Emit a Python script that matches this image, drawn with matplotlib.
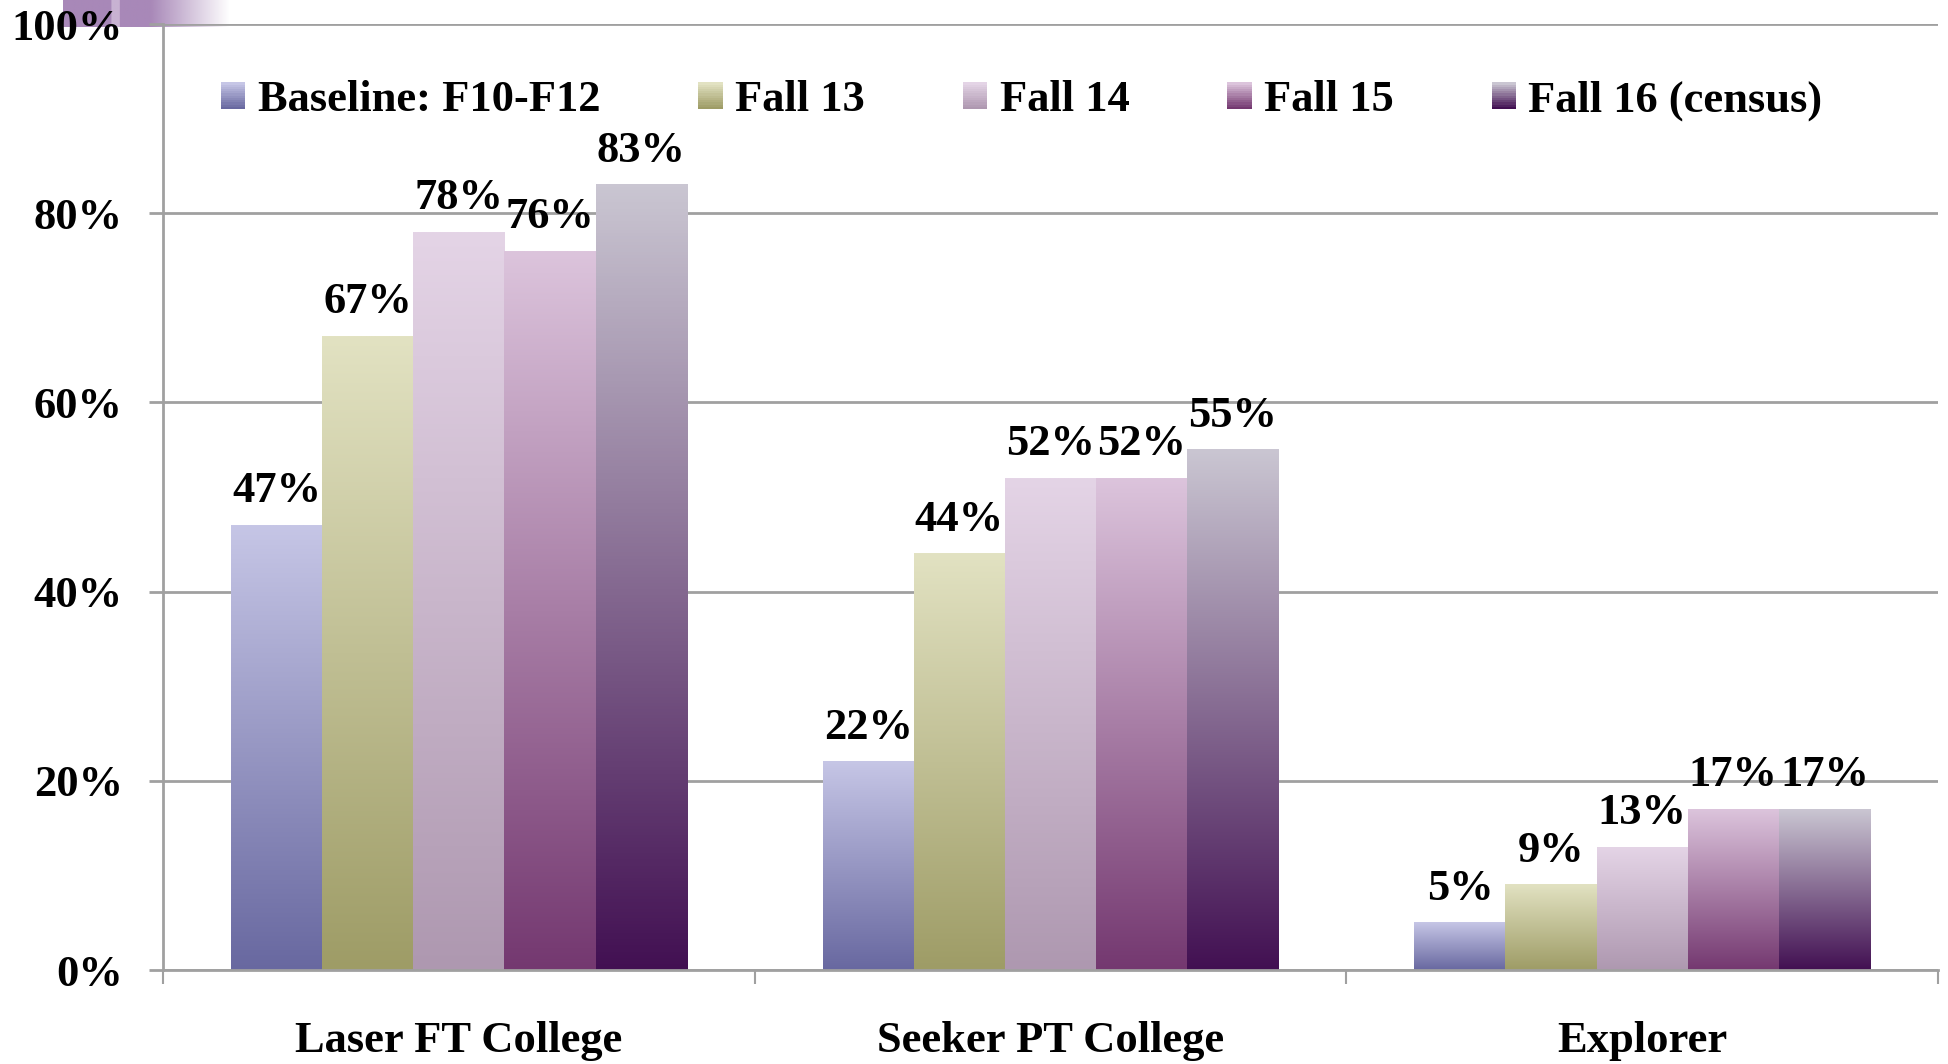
import numpy as np
import matplotlib
matplotlib.use("Agg")
import matplotlib.pyplot as plt
from matplotlib.colors import LinearSegmentedColormap, to_rgb
from matplotlib.patches import Rectangle
from matplotlib.legend_handler import HandlerBase

# Data
categories = ['Laser FT College', 'Seeker PT College', 'Explorer']
series = ['Baseline: F10-F12', 'Fall 13', 'Fall 14', 'Fall 15', 'Fall 16 (census)']
values = {
    'Baseline: F10-F12': [47, 22, 5],
    'Fall 13': [67, 44, 9],
    'Fall 14': [78, 52, 13],
    'Fall 15': [76, 52, 17],
    'Fall 16 (census)': [83, 55, 17],
}
y_ticks = [0, 20, 40, 60, 80, 100]

# gradient colours (top, bottom) for each series
grads = [('#C6C6E6', '#6868A0'),
         ('#E2E2C2', '#9E9C66'),
         ('#E4D4E6', '#AE98B0'),
         ('#DCC4DC', '#743870'),
         ('#CAC6D2', '#421052')]

plt.rcParams['font.family'] = ['Liberation Serif', 'DejaVu Serif']
plt.rcParams['font.weight'] = 'bold'
FS = 32


class GradHandler(HandlerBase):
    def __init__(self, top, bot):
        super().__init__()
        self.top = np.array(to_rgb(top))
        self.bot = np.array(to_rgb(bot))

    def create_artists(self, legend, orig_handle, xdescent, ydescent,
                       width, height, fontsize, trans):
        n = 12
        arts = []
        for k in range(n):
            t = k / (n - 1)
            c = self.bot * (1 - t) + self.top * t
            arts.append(Rectangle((-xdescent, -ydescent + height * k / n), width,
                                  height / n * 1.05, facecolor=c, edgecolor='none',
                                  transform=trans))
        return arts


fig = plt.figure(figsize=(19.48, 10.64), dpi=100)

# decorative purple strip in the top-left corner
deco = fig.add_axes([63 / 1948, 1 - 27 / 1064, 167 / 1948, 27 / 1064], zorder=0)
strip = np.ones((2, 200, 4))
strip[..., :3] = to_rgb('#A888B8')
alpha = np.ones(200)
fade = np.arange(200) > 104
alpha[fade] = np.linspace(1, 0, fade.sum())
strip[..., 3] = alpha
strip[:, 58:68, :3] = to_rgb('#C8B2D2')
deco.imshow(strip, aspect='auto')
deco.axis('off')

ax = fig.add_axes([163 / 1948, 94 / 1064, 1775 / 1948, 946 / 1064], zorder=1)
ax.patch.set_alpha(0)

x = np.arange(len(categories))
bw = 0.154
grad_arr = np.linspace(0, 1, 256).reshape(-1, 1)
handles = []
hmap = {}
for i, s in enumerate(series):
    top, bot = grads[i]
    cmap = LinearSegmentedColormap.from_list('g%d' % i, [bot, top])
    bars = ax.bar(x + (i - 2) * bw, values[s], bw, facecolor='none',
                  edgecolor='none', zorder=2)
    for b, v in zip(bars, values[s]):
        x0 = b.get_x()
        ax.imshow(grad_arr, cmap=cmap, origin='lower', aspect='auto',
                  extent=(x0, x0 + bw, 0, v), zorder=2)
        ax.annotate('%d%%' % v, (x0 + bw / 2, v), xytext=(0, 10),
                    textcoords='offset points', ha='center', va='bottom',
                    fontsize=FS, fontweight='bold', zorder=4)
    h = Rectangle((0, 0), 1, 1)
    handles.append(h)
    hmap[h] = GradHandler(top, bot)

ax.set_xlim(-0.5, 2.5)
ax.set_ylim(0, 100)
ax.set_yticks(y_ticks)
ax.set_yticklabels(['%d%%' % t for t in y_ticks])
ax.set_xticks(x)
ax.set_xticklabels(categories)
ax.set_xticks([-0.5, 0.5, 1.5, 2.5], minor=True)
ax.tick_params(axis='x', which='major', length=0, pad=37, labelsize=FS)
ax.tick_params(axis='x', which='minor', length=10, width=1.5, color='#A0A0A0')
ax.tick_params(axis='y', length=10, width=2, color='#A0A0A0', pad=19, labelsize=FS)
for lab in ax.get_xticklabels() + ax.get_yticklabels():
    lab.set_fontweight('bold')

ax.grid(True, axis='y', color='#A0A0A0', linewidth=2, zorder=0)
ax.set_axisbelow(True)
for side in ['top', 'right']:
    ax.spines[side].set_visible(False)
ax.spines['left'].set_color('#A0A0A0')
ax.spines['left'].set_linewidth(2)
ax.spines['bottom'].set_color('#A0A0A0')
ax.spines['bottom'].set_linewidth(2)

ax.legend(handles, series, handler_map=hmap, loc='center left',
          bbox_to_anchor=(0.0327, 0.919), ncol=5, frameon=False,
          borderaxespad=0, borderpad=0, handlelength=0.55, handleheight=0.55,
          handletextpad=0.28, columnspacing=2.2,
          prop={'size': FS, 'weight': 'bold'})

fig.savefig('out.png', dpi=100)
